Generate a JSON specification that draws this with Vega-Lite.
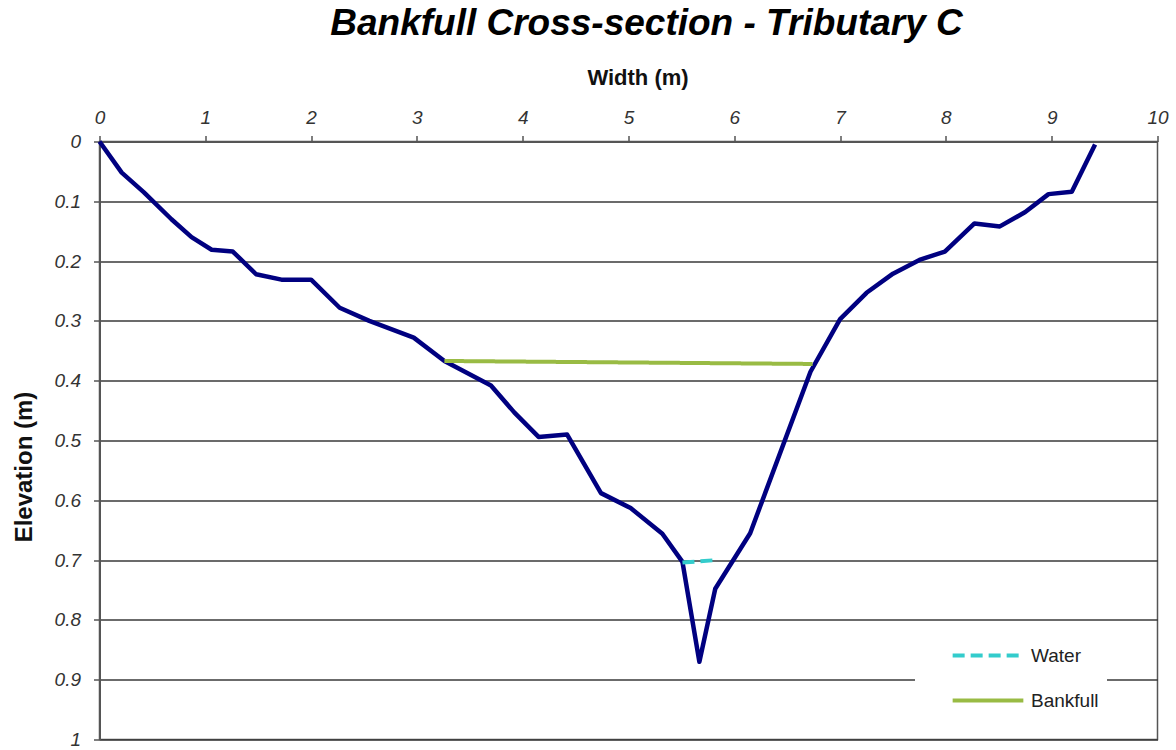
{
  "$schema": "https://vega.github.io/schema/vega-lite/v6.json",
  "autosize": "none",
  "width": 1058,
  "height": 598,
  "padding": {"left": 99.5, "top": 141.5, "right": 18, "bottom": 10},
  "background": "white",
  "title": {
    "text": "Bankfull Cross-section - Tributary C",
    "font": "Liberation Sans",
    "fontSize": 37,
    "fontWeight": "bold",
    "fontStyle": "italic",
    "color": "#000000",
    "anchor": "middle",
    "dx": 18,
    "baseline": "alphabetic",
    "offset": -5
  },
  "datasets": {
    "ground": [
      {"width": 0, "elev": 0},
      {"width": 0.21, "elev": 0.052},
      {"width": 0.42, "elev": 0.085},
      {"width": 0.68, "elev": 0.13},
      {"width": 0.87, "elev": 0.16},
      {"width": 1.06, "elev": 0.181},
      {"width": 1.26, "elev": 0.184},
      {"width": 1.48, "elev": 0.222},
      {"width": 1.72, "elev": 0.231},
      {"width": 2.0, "elev": 0.231},
      {"width": 2.27, "elev": 0.278},
      {"width": 2.55, "elev": 0.3},
      {"width": 2.97, "elev": 0.328},
      {"width": 3.26, "elev": 0.367},
      {"width": 3.7, "elev": 0.408},
      {"width": 3.92, "elev": 0.453},
      {"width": 4.15, "elev": 0.494},
      {"width": 4.42, "elev": 0.49},
      {"width": 4.74, "elev": 0.588},
      {"width": 5.02, "elev": 0.613},
      {"width": 5.32, "elev": 0.656},
      {"width": 5.51, "elev": 0.703},
      {"width": 5.67, "elev": 0.87},
      {"width": 5.82, "elev": 0.748},
      {"width": 6.15, "elev": 0.655},
      {"width": 6.72, "elev": 0.385},
      {"width": 7.0, "elev": 0.297},
      {"width": 7.25, "elev": 0.253},
      {"width": 7.5, "elev": 0.221},
      {"width": 7.75, "elev": 0.198},
      {"width": 7.99, "elev": 0.184},
      {"width": 8.27, "elev": 0.137},
      {"width": 8.51, "elev": 0.142},
      {"width": 8.75, "elev": 0.118},
      {"width": 8.97, "elev": 0.088},
      {"width": 9.19, "elev": 0.084},
      {"width": 9.41, "elev": 0.005}
    ],
    "levels": [
      {"series": "Water", "width": 5.51, "elev": 0.704},
      {"series": "Water", "width": 5.83, "elev": 0.7},
      {"series": "Bankfull", "width": 3.26, "elev": 0.367},
      {"series": "Bankfull", "width": 6.74, "elev": 0.372}
    ]
  },
  "config": {
    "view": {"stroke": "#555555", "strokeWidth": 1.5},
    "font": "Liberation Sans"
  },
  "encoding": {
    "x": {
      "field": "width",
      "type": "quantitative",
      "scale": {"domain": [0, 10], "nice": false, "zero": false},
      "axis": {
        "orient": "top",
        "values": [0, 1, 2, 3, 4, 5, 6, 7, 8, 9, 10],
        "grid": false,
        "domainColor": "#555555",
        "domainWidth": 2,
        "tickColor": "#555555",
        "tickSize": 6,
        "tickWidth": 1.5,
        "labelFont": "Liberation Sans",
        "labelFontSize": 19,
        "labelFontStyle": "italic",
        "labelColor": "#333333",
        "labelBaseline": "alphabetic",
        "labelPadding": 12,
        "labelFlush": false,
        "title": "Width (m)",
        "titleFont": "Liberation Sans",
        "titleFontSize": 22,
        "titleFontWeight": "bold",
        "titleColor": "#111111",
        "titleX": 538,
        "titleY": -57,
        "titleBaseline": "alphabetic"
      }
    },
    "y": {
      "field": "elev",
      "type": "quantitative",
      "scale": {"domain": [0, 1], "reverse": true, "nice": false, "zero": false},
      "axis": {
        "values": [0, 0.1, 0.2, 0.3, 0.4, 0.5, 0.6, 0.7, 0.8, 0.9, 1],
        "format": "~g",
        "grid": true,
        "gridColor": "#3a3a3a",
        "gridWidth": 1.5,
        "domainColor": "#555555",
        "domainWidth": 2,
        "tickColor": "#555555",
        "tickSize": 6,
        "tickWidth": 1.5,
        "labelFont": "Liberation Sans",
        "labelFontSize": 19,
        "labelFontStyle": "italic",
        "labelColor": "#333333",
        "labelPadding": 13,
        "labelFlush": false,
        "title": "Elevation (m)",
        "titleFont": "Liberation Sans",
        "titleFontSize": 24,
        "titleFontWeight": "bold",
        "titleColor": "#111111",
        "titleX": -68,
        "titleY": 325,
        "titleBaseline": "alphabetic"
      }
    }
  },
  "layer": [
    {
      "data": {"name": "ground"},
      "mark": {"type": "line", "color": "#000080", "strokeWidth": 4.5, "strokeJoin": "round"},
      "encoding": {}
    },
    {
      "data": {"name": "levels"},
      "mark": {"type": "line", "strokeWidth": 4},
      "encoding": {
        "color": {
          "field": "series",
          "type": "nominal",
          "scale": {"domain": ["Water", "Bankfull"], "range": ["#33CCCC", "#99BB44"]},
          "legend": {
            "title": null,
            "orient": "none",
            "legendX": 815.5,
            "legendY": 486,
            "fillColor": "white",
            "strokeColor": null,
            "padding": 8,
            "symbolType": "M-2,0H2",
            "symbolSize": 1250,
            "symbolStrokeWidth": 4,
            "symbolOffset": 45,
            "labelFont": "Liberation Sans",
            "labelFontSize": 19,
            "labelColor": "#222222",
            "labelOffset": 23,
            "rowPadding": 15
          }
        },
        "strokeDash": {
          "field": "series",
          "type": "nominal",
          "scale": {"domain": ["Water", "Bankfull"], "range": [[12, 6], [1, 0]]},
          "legend": null
        }
      }
    }
  ]
}
